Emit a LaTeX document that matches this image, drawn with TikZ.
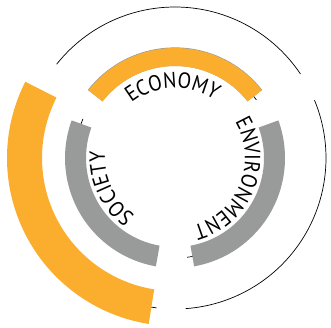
\documentclass[tikz,border=0pt]{standalone}
\usepackage{fontspec}
\setmainfont{PT Sans}
\newfontfamily\ringfamily[FakeStretch=0.9]{PT Sans}
\usetikzlibrary{decorations.text}

\definecolor{ringorange}{RGB}{251,174,46}
\definecolor{ringgray}{RGB}{153,155,155}
\newcommand{\ringfont}{\ringfamily\fontsize{22}{22}\selectfont}
% filled ring segment: start angle, end angle, inner radius, outer radius
\newcommand{\ringband}[5]{%
  \fill[#5] (#1:#3) arc[start angle=#1, end angle=#2, radius=#3]
    -- (#2:#4) arc[start angle=#2, end angle=#1, radius=#4] -- cycle;}

\begin{document}
\begin{tikzpicture}[x=1pt, y=1pt]
  \tikzstyle{thinring} = [draw=black, line width=0.7pt]
  \tikzstyle{ringtext} = [decorate, decoration={text along path, text align=center,
    text={|\ringfont|#1}}]
  \useasboundingbox (-175,-169) rectangle (156,158);

  % outer thin circle
  \draw[thinring] (33.8:151) arc[start angle=33.8, end angle=141.6, radius=151];
  \draw[thinring] (-86:151) arc[start angle=-86, end angle=22.5, radius=151];
  \draw[thinring] (259:151) arc[start angle=259, end angle=263, radius=151];

  % small leftovers of the inner guide circle
  \draw[thinring] (35.5:100) arc[start angle=35.5, end angle=40, radius=100];
  \draw[thinring] (157:100) arc[start angle=157, end angle=162, radius=100];
  \draw[thinring] (277:100) arc[start angle=277, end angle=282, radius=100];

  % outer orange band
  \ringband{153}{261}{133}{168}{ringorange}

  % inner ring: economy, society, environment
  \ringband{38}{142}{92}{110.6}{ringgray}
  \ringband{38}{142}{92}{110}{ringorange}
  \ringband{160}{260}{89}{110}{ringgray}
  \ringband{280}{380}{89}{110}{ringgray}

  % labels
  \path[ringtext=ECONOMY] (137:70) arc[start angle=137, end angle=47, radius=70];
  \path[ringtext=SOCIETY] (255:70) arc[start angle=255, end angle=155, radius=70];
  \path[ringtext=ENVIRONMENT] (30:70) arc[start angle=30, end angle=-74, radius=70];
\end{tikzpicture}
\end{document}
